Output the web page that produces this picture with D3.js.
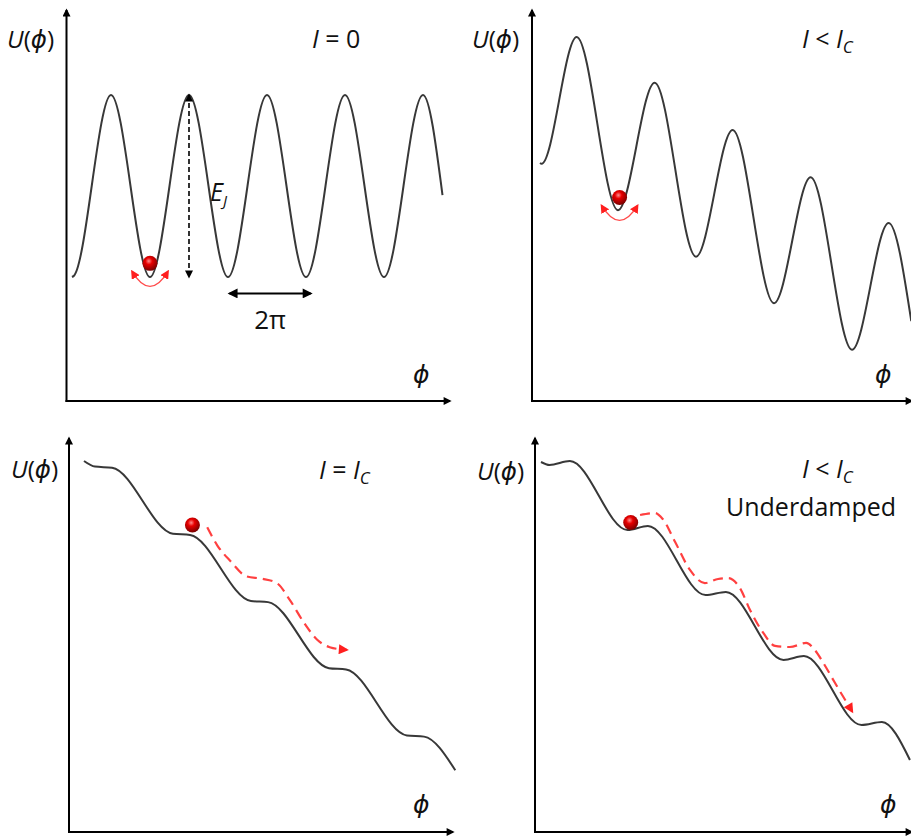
<!DOCTYPE html>
<meta charset="utf-8">
<title>Tilted washboard potential</title>
<script src="https://d3js.org/d3.v7.min.js"></script>
<style>
  body { margin: 0; background: #fff; }
  text { font-family: "Open Sans", "DejaVu Sans", sans-serif; fill: #111; white-space: pre; }
</style>
<body>
<div id="chart"></div>
<script>
  // phi in periods (units of 2*pi), U in units of E_J
  var phiI0 = [0, 0.02, 0.5, 1, 1.5, 2, 2.5, 3, 3.5, 4, 4.5, 4.75];
  var uI0 = [-1, -0.99, 1, -1, 1, -1, 1, -1, 1, -1, 1, -0.1];

  var phiLow = [0, 0.02, 0.47, 1.0, 1.47, 2.0, 2.47, 3.0, 3.47, 4.0, 4.47, 4.76];
  var uLow = [-0.99, -1.0, 0.69, -1.62, 0.08, -2.24, -0.55, -2.86, -1.18, -3.48, -1.79, -3.1];

  var phiCrit = [0, 0.14, 0.36, 1.14, 1.36, 2.14, 2.36, 3.14, 3.36, 4.14, 4.36, 4.76];
  var uCrit = [-1.0, -1.52, -1.63, -7.80, -7.91, -14.08, -14.19, -20.36, -20.48, -26.65, -26.76, -29.9];

  var phiUnder = [0, 0.11, 0.37, 1.11, 1.37, 2.11, 2.37, 3.11, 3.37, 4.11, 4.37, 4.73];
  var uUnder = [-1.0, -1.19, -0.94, -5.36, -5.10, -9.53, -9.33, -13.69, -13.44, -17.86, -17.67, -20.1];

  // running-phase trajectories (red dashed)
  var phiRunCrit = [1.58, 1.71, 1.87, 2.09, 2.28, 2.47, 2.64, 2.81, 2.99, 3.15, 3.37];
  var uRunCrit = [-7.2, -8.9, -10.3, -11.8, -12.0, -12.4, -14.0, -16.0, -17.7, -18.4, -18.65];

  var phiRunUnder = [1.27, 1.46, 1.56, 1.72, 1.91, 2.10, 2.27, 2.40, 2.55, 2.68, 2.85, 3.0, 3.19, 3.40, 3.51, 3.62, 3.77, 3.99];
  var uRunUnder = [-4.40, -4.27, -4.65, -6.13, -7.92, -8.76, -8.50, -8.44, -9.08, -10.49, -11.96, -12.79, -12.86, -12.60, -13.05, -13.88, -15.17, -17.0];

  // particle (ball) centres [phi, U]
  var ballI0 = [1.0, -0.85];
  var ballLow = [1.02, -1.45];
  var ballCrit = [1.39, -6.98];
  var ballUnder = [1.15, -4.88];

  // E_J barrier marker and 2pi period marker (panel I = 0)
  var barrierEJ = [1.5, 1, -1];       // phi, U top, U bottom
  var period2pi = [2.02, 3.06, -1.18]; // phi start, phi end, U

  // labels
  var titleI0 = [["I", "i"], [" = 0", ""]];
  var titleLow = [["I", "i"], [" < ", ""], ["I", "i"], ["C", "sub"]];
  var titleCrit = [["I", "i"], [" = ", ""], ["I", "i"], ["C", "sub"]];
  var titleUnder = [["I", "i"], [" < ", ""], ["I", "i"], ["C", "sub"]];
  var yLabel = [["U", "i"], ["(", ""], ["\u03D5", "i"], [")", ""]];
  var xLabel = [["\u03D5", "i"]];

  var W = 911, H = 837;
  var svg = d3.select("#chart").append("svg")
    .attr("width", W)
    .attr("height", H);
  var defs = svg.append("defs");

  function marker(id, fill, len, wid) {
    defs.append("marker")
      .attr("id", id)
      .attr("viewBox", "0 0 10 10")
      .attr("refX", 8).attr("refY", 5)
      .attr("markerWidth", len).attr("markerHeight", wid)
      .attr("markerUnits", "userSpaceOnUse")
      .attr("orient", "auto-start-reverse")
      .append("path")
      .attr("d", "M0,0L10,5L0,10Z")
      .attr("fill", fill);
  }
  marker("axisHead", "#000", 9, 8);
  marker("blackHead", "#000", 9, 8);
  marker("spanHead", "#000", 11, 10);
  marker("redHead", "#ff1f1f", 12, 10);
  marker("redSmall", "#ff1f1f", 9, 9);

  var grad = defs.append("radialGradient")
    .attr("id", "ballGrad")
    .attr("cx", "42%").attr("cy", "35%").attr("r", "65%");
  grad.append("stop").attr("offset", "0%").attr("stop-color", "#ff8c8c");
  grad.append("stop").attr("offset", "35%").attr("stop-color", "#e80000");
  grad.append("stop").attr("offset", "100%").attr("stop-color", "#780000");

  var panels = [
    { axX: 66.5, axTop: 8, axY: 401, axEnd: 452,
      x: d3.scaleLinear().domain([0, 5]).range([72, 462]),
      y: d3.scaleLinear().domain([-1, 1]).range([277, 95]),
      phi: phiI0, u: uI0, ball: ballI0, rock: true,
      title: titleI0, titlePos: [312, 48], uPos: [7, 48], phiPos: [413, 383] },
    { axX: 532, axTop: 8, axY: 401, axEnd: 914,
      x: d3.scaleLinear().domain([0, 5]).range([540, 930]),
      y: d3.scaleLinear().domain([-1, 1]).range([163.7, 13.7]),
      phi: phiLow, u: uLow, ball: ballLow, rock: true,
      title: titleLow, titlePos: [802, 48], uPos: [472, 48], phiPos: [875, 383] },
    { axX: 69, axTop: 436, axY: 832, axEnd: 455,
      x: d3.scaleLinear().domain([0, 5]).range([84, 474]),
      y: d3.scaleLinear().domain([0, -30]).range([450.3, 771.3]),
      phi: phiCrit, u: uCrit, ball: ballCrit, runPhi: phiRunCrit, runU: uRunCrit,
      title: titleCrit, titlePos: [319, 479], uPos: [11, 478], phiPos: [413, 813] },
    { axX: 535, axTop: 436, axY: 832, axEnd: 914,
      x: d3.scaleLinear().domain([0, 5]).range([541, 931]),
      y: d3.scaleLinear().domain([0, -20]).range([446.4, 758.4]),
      phi: phiUnder, u: uUnder, ball: ballUnder, runPhi: phiRunUnder, runU: uRunUnder,
      title: titleUnder, titlePos: [802, 478], uPos: [477, 480], phiPos: [880, 813] }
  ];

  function addText(g, pos, parts, size) {
    var t = g.append("text")
      .attr("x", pos[0])
      .attr("y", pos[1])
      .attr("font-size", size);
    parts.forEach(function(p) {
      var s = t.append("tspan").text(p[0]);
      if (p[1] === "i" || p[1] === "sub") s.attr("font-style", "italic");
      if (p[1] === "sub") s.attr("font-size", Math.round(size * 0.68)).attr("dy", 5);
    });
    return t;
  }

  panels.forEach(function(p, k) {
    var g = svg.append("g").attr("class", "panel-" + k);

    // axes
    g.append("line")
      .attr("x1", p.axX).attr("y1", p.axY + 1)
      .attr("x2", p.axX).attr("y2", p.axTop + 2)
      .attr("stroke", "#000").attr("stroke-width", 2)
      .attr("marker-end", "url(#axisHead)");
    g.append("line")
      .attr("x1", p.axX - 1).attr("y1", p.axY)
      .attr("x2", p.axEnd - 2).attr("y2", p.axY)
      .attr("stroke", "#000").attr("stroke-width", 2)
      .attr("marker-end", "url(#axisHead)");

    // potential
    var pts = p.phi.map(function(d, i) { return [d, p.u[i]]; });
    var line = d3.line()
      .x(function(d) { return p.x(d[0]); })
      .y(function(d) { return p.y(d[1]); })
      .curve(d3.curveMonotoneX);
    g.append("path")
      .attr("d", line(pts))
      .attr("fill", "none")
      .attr("stroke", "#383838")
      .attr("stroke-width", 2);

    // running trajectory
    if (p.runPhi) {
      var run = p.runPhi.map(function(d, i) { return [d, p.runU[i]]; });
      g.append("path")
        .attr("d", line(run))
        .attr("fill", "none")
        .attr("stroke", "#ff4040")
        .attr("stroke-width", 2.2)
        .attr("stroke-dasharray", "10,6")
        .attr("marker-end", "url(#redHead)");
    }

    // particle, with the small rocking arc while it is trapped
    var bx = p.x(p.ball[0]), by = p.y(p.ball[1]);
    if (p.rock) {
      g.append("path")
        .attr("d", "M" + (bx - 18) + "," + (by + 8) + "Q" + bx + "," + (by + 38) + " " + (bx + 18) + "," + (by + 8))
        .attr("fill", "none")
        .attr("stroke", "#ff4a4a")
        .attr("stroke-width", 1.3)
        .attr("marker-start", "url(#redSmall)")
        .attr("marker-end", "url(#redSmall)");
    }
    g.append("circle")
      .attr("cx", bx).attr("cy", by).attr("r", 7.5)
      .attr("fill", "url(#ballGrad)");

    // labels
    addText(g, p.uPos, yLabel, 24.5);
    addText(g, p.titlePos, p.title, 25);
    addText(g, p.phiPos, xLabel, 25);
  });

  // E_J and 2pi markers in the I = 0 panel
  var p0 = panels[0];
  var g0 = svg.select(".panel-0");
  g0.append("line")
    .attr("x1", p0.x(barrierEJ[0])).attr("y1", p0.y(barrierEJ[1]))
    .attr("x2", p0.x(barrierEJ[0])).attr("y2", p0.y(barrierEJ[2]))
    .attr("stroke", "#000").attr("stroke-width", 1.6)
    .attr("stroke-dasharray", "5,3")
    .attr("marker-start", "url(#blackHead)")
    .attr("marker-end", "url(#blackHead)");
  g0.append("line")
    .attr("x1", p0.x(period2pi[0])).attr("y1", p0.y(period2pi[2]))
    .attr("x2", p0.x(period2pi[1])).attr("y2", p0.y(period2pi[2]))
    .attr("stroke", "#000").attr("stroke-width", 2)
    .attr("marker-start", "url(#spanHead)")
    .attr("marker-end", "url(#spanHead)");
  g0.append("text")
    .attr("x", (p0.x(period2pi[0]) + p0.x(period2pi[1])) / 2)
    .attr("y", 329)
    .attr("text-anchor", "middle")
    .attr("font-size", 26)
    .text("2\u03C0");
  var ej = g0.append("text")
    .attr("x", 210).attr("y", 201)
    .attr("font-size", 25)
    .attr("font-style", "italic");
  ej.append("tspan").text("E");
  ej.append("tspan").attr("font-size", 15).attr("dy", 5).text("J");

  // second line of the underdamped panel title
  svg.select(".panel-3").append("text")
    .attr("x", 726).attr("y", 516)
    .attr("font-size", 25)
    .text("Underdamped");
</script>
</body>
